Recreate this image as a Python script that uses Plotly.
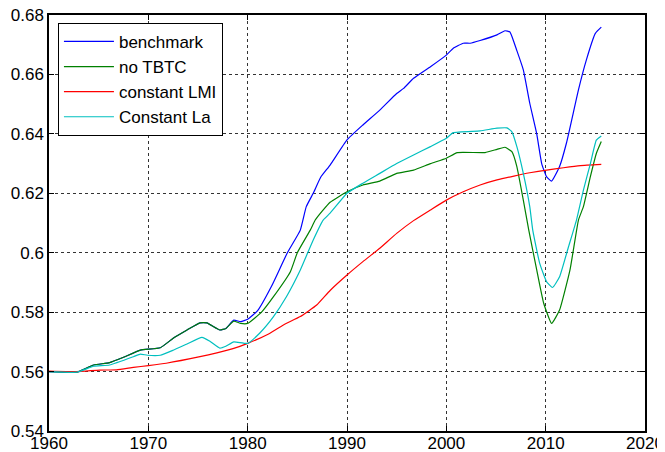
import plotly.graph_objects as go

BLUE = "#0000ff"
GREEN = "#008000"
RED = "#ff0000"
CYAN = "#00bfbf"

# benchmark
bench_year = [1960, 1962, 1962.8, 1964.5, 1966.1, 1967.5, 1969.2, 1971.2, 1972.5, 1973.9,
              1975.2, 1975.9, 1977.2, 1977.8, 1978.6, 1979.3, 1980, 1981, 1982.4, 1984.0,
              1985.3, 1985.9, 1986.6, 1987.35, 1988.3, 1990, 1991.6, 1993.3, 1995, 1995.7,
              1996.7, 1998.4, 2000, 2000.7, 2001.7, 2002.4, 2003.4, 2005.1, 2005.9, 2006.4,
              2007.1, 2007.75, 2008.4, 2009.1, 2009.6, 2010.1, 2010.6, 2011.4, 2012.1, 2013.3,
              2014.1, 2015.0, 2015.6]
bench_val = [0.560, 0.5598, 0.5598, 0.5622, 0.5630, 0.5648, 0.5672, 0.5680, 0.5712, 0.5740,
             0.5764, 0.5764, 0.5740, 0.5745, 0.5773, 0.5768, 0.5776, 0.5805, 0.5887, 0.6000,
             0.6076, 0.6155, 0.6200, 0.6254, 0.6295, 0.6380, 0.6430, 0.6480, 0.6536, 0.6553,
             0.6587, 0.6626, 0.6665, 0.6688, 0.6705, 0.6705, 0.6714, 0.6733, 0.6747, 0.6743,
             0.6680, 0.6615, 0.6503, 0.6400, 0.6300, 0.6255, 0.6241, 0.6290, 0.6370, 0.6548,
             0.6649, 0.6738, 0.6759]

# no TBTC
notbtc_year = [1960, 1962, 1962.8, 1964.5, 1966.1, 1967.5, 1969.2, 1971.2, 1972.5, 1973.9,
               1975.2, 1975.9, 1977.2, 1977.8, 1978.6, 1979.3, 1980, 1981.4, 1982.6, 1984.3,
               1985.0, 1986.3, 1986.8, 1987.5, 1988.3, 1990, 1991.6, 1993.3, 1995, 1996.7,
               1998.4, 2000, 2001.1, 2003.9, 2005.1, 2005.9, 2006.6, 2007.1, 2007.75, 2008.3,
               2009.1, 2009.8, 2010.6, 2011.4, 2012.45, 2013.3, 2013.8, 2014.5, 2015.1, 2015.6]
notbtc_val = [0.560, 0.5598, 0.5598, 0.5622, 0.5630, 0.5648, 0.5672, 0.5680, 0.5712, 0.5740,
              0.5764, 0.5764, 0.5740, 0.5745, 0.5770, 0.5762, 0.5762, 0.5800, 0.5852, 0.5936,
              0.6000, 0.6076, 0.6110, 0.6140, 0.6170, 0.6205, 0.6228, 0.6241, 0.6267, 0.6278,
              0.6300, 0.6318, 0.6337, 0.6337, 0.6348, 0.6355, 0.6340, 0.6290, 0.6177, 0.6076,
              0.5942, 0.5830, 0.5762, 0.5807, 0.5942, 0.6110, 0.6155, 0.6256, 0.6334, 0.6374]

# constant LMI
lmi_year = [1960, 1962.8, 1965.1, 1966.8, 1968.5, 1970, 1971.8, 1975.2, 1976.9, 1978.6,
            1980, 1981.9, 1983.6, 1985.3, 1986.95, 1988.3, 1990, 1991.6, 1993.3, 1995,
            1996.7, 1998.4, 2000, 2001.7, 2003.4, 2005.1, 2006.8, 2008.4, 2010.1, 2011.8,
            2013.5, 2015.6]
lmi_val = [0.5602, 0.5600, 0.5605, 0.5606, 0.5614, 0.5620, 0.5628, 0.5650, 0.5663, 0.5678,
           0.5695, 0.5723, 0.5757, 0.5785, 0.5824, 0.5873, 0.5925, 0.5970, 0.6015, 0.6065,
           0.6108, 0.6144, 0.6177, 0.6205, 0.6228, 0.6245, 0.6258, 0.6269, 0.6278, 0.6286,
           0.6293, 0.6297]

# Constant La
la_year = [1960, 1962.8, 1964.5, 1966.1, 1968.5, 1969.2, 1969.9, 1971.2, 1972.5, 1973.9,
           1975.4, 1976.2, 1977.2, 1977.8, 1978.6, 1980, 1981.2, 1982.6, 1983.9, 1985.3,
           1986.6, 1987.6, 1988.3, 1990, 1991.6, 1993.3, 1995, 1996.7, 1998.4, 2000,
           2000.7, 2003.4, 2005.1, 2006.1, 2006.6, 2007.1, 2007.75, 2008.4, 2008.7, 2009.4,
           2010.1, 2010.7, 2011.4, 2012.3, 2013.1, 2013.8, 2014.5, 2015.1, 2015.6]
la_val = [0.560, 0.5598, 0.5618, 0.5622, 0.5650, 0.5659, 0.5655, 0.5655, 0.5672, 0.5693,
          0.5715, 0.5702, 0.5679, 0.5685, 0.5700, 0.5695, 0.5729, 0.5785, 0.5852, 0.5942,
          0.6043, 0.6110, 0.6133, 0.6200, 0.6234, 0.6267, 0.6300, 0.6329, 0.6357, 0.6385,
          0.6404, 0.6410, 0.6419, 0.6420, 0.6407, 0.6357, 0.6267, 0.6155, 0.6076, 0.5964,
          0.5902, 0.5883, 0.5919, 0.6020, 0.6110, 0.6211, 0.6300, 0.6379, 0.6393]

x_ticks = [1960, 1970, 1980, 1990, 2000, 2010, 2020]
y_ticks = [0.54, 0.56, 0.58, 0.60, 0.62, 0.64, 0.66, 0.68]
y_ticktext = ["0.54", "0.56", "0.58", "0.6", "0.62", "0.64", "0.66", "0.68"]

series = [
    ("benchmark", bench_year, bench_val, BLUE),
    ("no TBTC", notbtc_year, notbtc_val, GREEN),
    ("constant LMI", lmi_year, lmi_val, RED),
    ("Constant La", la_year, la_val, CYAN),
]

fig = go.Figure()
for name, xs, ys, color in series:
    fig.add_trace(go.Scatter(x=xs, y=ys, mode="lines", name=name,
                             line=dict(color=color, width=1.2, shape="spline", smoothing=0.4)))

axis_common = dict(
    showline=True, linecolor="black", linewidth=1.5, mirror="ticks",
    ticks="inside", ticklen=5, tickcolor="black",
    showgrid=True, gridcolor="#333333", griddash="dot", gridwidth=1,
    zeroline=False, tickfont=dict(size=17, color="black"), automargin=False,
    ticklabeloverflow="allow",
)

# page body adds an 8px offset, so the figure is 8px smaller than the window
fig.update_layout(
    width=657, height=444,
    margin=dict(l=41, r=20, t=7, b=21),
    plot_bgcolor="white", paper_bgcolor="white",
    font=dict(family="Liberation Sans, Arial, sans-serif", color="black"),
    xaxis=dict(range=[1960, 2020], tickvals=x_ticks, ticklabelstandoff=-4, **axis_common),
    yaxis=dict(range=[0.54, 0.68], tickvals=y_ticks, ticktext=y_ticktext, **axis_common),
    legend=dict(x=0.015, y=0.981, xanchor="left", yanchor="top",
                bgcolor="white", bordercolor="black", borderwidth=1,
                font=dict(size=17), tracegroupgap=0, itemwidth=50),
    showlegend=True,
)

fig.write_html("out.html")
